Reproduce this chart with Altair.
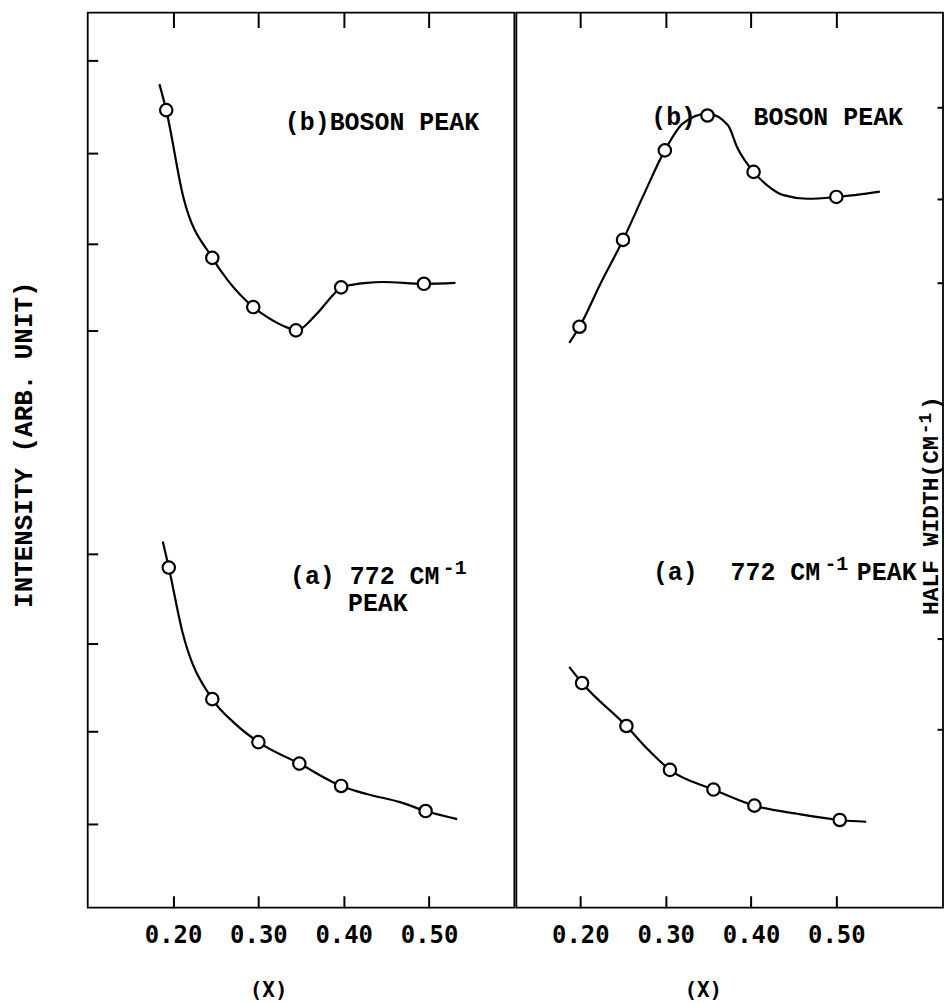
import altair as alt
import pandas as pd

# ---------------- data (arbitrary units) ----------------
X_TICKS = [0.20, 0.30, 0.40, 0.50]
LEFT_Y_TICKS = [94.6, 84.3, 74.2, 64.5, 39.5, 29.5, 19.7, 9.3]
RIGHT_Y_TICKS = [89.4, 79.2, 69.8, 30.1, 19.9]

# Left panel: intensity
L_B_X = [0.192, 0.246, 0.294, 0.344, 0.397, 0.494]
L_B_Y = [89.1, 72.6, 67.1, 64.5, 69.3, 69.7]
L_B_CURVE_X = [0.184, 0.192, 0.212, 0.246, 0.264, 0.294, 0.310, 0.334, 0.344,
               0.369, 0.387, 0.397, 0.411, 0.427, 0.446, 0.494, 0.531]
L_B_CURVE_Y = [92.0, 89.1, 79.4, 72.6, 70.1, 67.1, 66.0, 64.8, 64.5,
               66.4, 68.4, 69.3, 69.6, 69.8, 69.9, 69.7, 69.8]

L_A_X = [0.195, 0.246, 0.300, 0.348, 0.397, 0.496]
L_A_Y = [38.0, 23.3, 18.5, 16.1, 13.6, 10.8]
L_A_CURVE_X = [0.188, 0.195, 0.211, 0.246, 0.271, 0.300, 0.348,
               0.397, 0.427, 0.466, 0.496, 0.533]
L_A_CURVE_Y = [40.9, 38.0, 30.8, 23.3, 20.7, 18.5, 16.1,
               13.6, 12.7, 11.8, 10.8, 9.9]

# Right panel: half width
R_B_X = [0.199, 0.250, 0.299, 0.349, 0.403, 0.500]
R_B_Y = [64.9, 74.6, 84.6, 88.5, 82.2, 79.4]
R_B_CURVE_X = [0.187, 0.199, 0.224, 0.250, 0.275, 0.299, 0.320, 0.349,
               0.373, 0.384, 0.403, 0.419, 0.438, 0.466, 0.500, 0.551]
R_B_CURVE_Y = [63.1, 64.9, 69.8, 74.6, 79.8, 84.6, 87.6, 88.7,
               87.4, 84.9, 82.2, 80.7, 79.6, 79.2, 79.4, 80.0]

R_A_X = [0.202, 0.254, 0.305, 0.356, 0.404, 0.504]
R_A_Y = [25.1, 20.3, 15.4, 13.2, 11.4, 9.8]
R_A_CURVE_X = [0.187, 0.202, 0.254, 0.279, 0.305, 0.356, 0.404, 0.454, 0.504, 0.535]
R_A_CURVE_Y = [26.9, 25.1, 20.3, 17.7, 15.4, 13.2, 11.4, 10.5, 9.8, 9.6]

LEFT_XDOMAIN = [0.10, 0.60]
RIGHT_XDOMAIN = [0.125, 0.625]
YDOMAIN = [0, 100]

# annotations: (x, y, text)
L_TEXT = [(0.331, 87.8, "(b)BOSON PEAK"), (0.337, 37.0, "(a) 772 CM"), (0.405, 34.0, "PEAK")]
L_SUP = [(0.516, 37.9, "-1")]
R_TEXT = [(0.283, 88.3, "(b)"), (0.403, 88.3, "BOSON PEAK"),
          (0.285, 37.5, "(a)"), (0.376, 37.5, "772 CM"), (0.524, 37.5, "PEAK")]
R_SUP = [(0.486, 38.4, "-1")]
R_TITLE = [(0.6115, 32.7, "HALF WIDTH(CM"), (0.6115, 55.6, ")")]
R_TITLE_SUP = [(0.6050, 52.9, "-1")]

W, H = 428, 898
MONO = "Liberation Mono"
NUM = "DejaVu Sans Mono"


def curves_df(*pairs):
    rows = []
    for i, (xs, ys) in enumerate(pairs):
        for x, y in zip(xs, ys):
            rows.append({"s": i, "x": x, "y": y})
    return pd.DataFrame(rows)


def text_df(items):
    return pd.DataFrame([{"x": x, "y": y, "t": t} for x, y, t in items])


def panel(curves, points, xdomain, yaxis, xtitle_x, texts, sups, extra=None):
    xs = alt.Scale(domain=xdomain, nice=False, zero=False)
    ys = alt.Scale(domain=YDOMAIN, nice=False, zero=False)
    noax = None

    line = alt.Chart(curves).mark_line(
        interpolate="monotone", color="black", strokeWidth=2.2
    ).encode(
        x=alt.X("x:Q", scale=xs, axis=alt.Axis(
            orient="bottom", values=X_TICKS, format=".2f", tickSize=12, offset=-12,
            labelFont=NUM, labelFontWeight="bold", labelFontSize=24, labelPadding=16,
            labelColor="black", title="(X)", titleFont=NUM, titleFontWeight="bold",
            titleFontSize=21, titleColor="black", titleX=xtitle_x, titleY=95,
            titleBaseline="middle", titleAlign="center", titleAngle=0)),
        y=alt.Y("y:Q", scale=ys, axis=yaxis),
        detail="s:N",
    )

    pts = alt.Chart(points).mark_point(
        shape="circle", size=155, filled=False, fill="white", fillOpacity=1,
        stroke="black", strokeWidth=2.2, opacity=1
    ).encode(
        x=alt.X("x:Q", scale=xs, axis=alt.Axis(
            orient="top", values=X_TICKS, tickSize=15, offset=-15, labels=False, title=None)),
        y=alt.Y("y:Q", scale=ys, axis=noax),
    )

    txt = alt.Chart(texts).mark_text(
        font=MONO, fontSize=25, fontWeight="bold", align="left", baseline="middle", color="black"
    ).encode(x=alt.X("x:Q", scale=xs, axis=noax), y=alt.Y("y:Q", scale=ys, axis=noax), text="t:N")

    sup = alt.Chart(sups).mark_text(
        font=MONO, fontSize=20, fontWeight="bold", align="left", baseline="middle", color="black"
    ).encode(x=alt.X("x:Q", scale=xs, axis=noax), y=alt.Y("y:Q", scale=ys, axis=noax), text="t:N")

    layers = [line, pts, txt, sup]
    if extra is not None:
        for df, size in extra:
            layers.append(alt.Chart(df).mark_text(
                font=MONO, fontSize=size, fontWeight="bold", align="left", baseline="middle",
                angle=270, color="black"
            ).encode(x=alt.X("x:Q", scale=xs, axis=noax), y=alt.Y("y:Q", scale=ys, axis=noax),
                     text="t:N"))
    return alt.layer(*layers).resolve_axis(x="independent", y="independent").properties(
        width=W, height=H)


left_y_axis = alt.Axis(orient="left", values=LEFT_Y_TICKS, tickSize=10, offset=-10,
                       labels=False, title="INTENSITY (ARB. UNIT)", titleFont=MONO,
                       titleFontSize=26, titleFontWeight="bold", titleColor="black",
                       titleAngle=270, titleX=-74, titleY=433, titleBaseline="middle",
                       titleAlign="center")
right_y_axis = alt.Axis(orient="right", values=RIGHT_Y_TICKS, tickSize=6, offset=-6,
                        labels=False, title=None)

left = panel(
    curves_df((L_B_CURVE_X, L_B_CURVE_Y), (L_A_CURVE_X, L_A_CURVE_Y)),
    pd.DataFrame({"x": L_B_X + L_A_X, "y": L_B_Y + L_A_Y}),
    LEFT_XDOMAIN, left_y_axis, 181, text_df(L_TEXT), text_df(L_SUP),
)
right = panel(
    curves_df((R_B_CURVE_X, R_B_CURVE_Y), (R_A_CURVE_X, R_A_CURVE_Y)),
    pd.DataFrame({"x": R_B_X + R_A_X, "y": R_B_Y + R_A_Y}),
    RIGHT_XDOMAIN, right_y_axis, 187, text_df(R_TEXT), text_df(R_SUP),
    extra=[(text_df(R_TITLE), 23), (text_df(R_TITLE_SUP), 18)],
)

chart = alt.hconcat(left, right, spacing=0).properties(
    padding={"left": 10, "top": 9, "right": 0, "bottom": 0},
    background="white",
).configure_view(stroke="black", strokeWidth=1.8).configure_axis(
    tickColor="black", tickWidth=2, grid=False, domain=False
)

chart.save("out.html", embed_options={"renderer": "svg", "actions": False})
